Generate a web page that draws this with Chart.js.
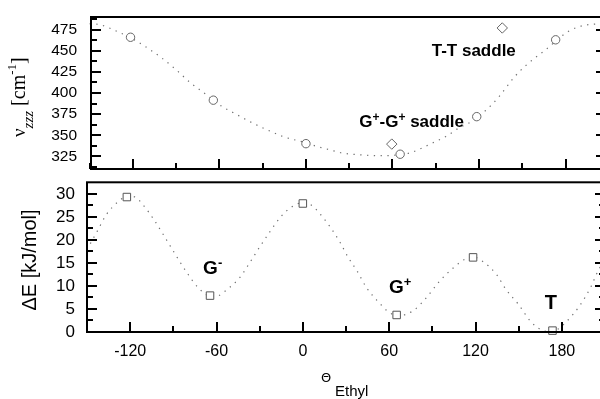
<!DOCTYPE html>
<html>
<head>
<meta charset="utf-8">
<script src="https://cdn.jsdelivr.net/npm/chart.js@4.4.0/dist/chart.umd.min.js"></script>
<style>
  html, body { margin: 0; padding: 0; background: #fff; width: 600px; height: 399px; overflow: hidden; position: relative; }
  canvas { position: absolute; left: 0; }
  #topChart { top: 0; }
  #bottomChart { top: 176px; }
</style>
</head>
<body>
<canvas id="topChart" width="640" height="176"></canvas>
<canvas id="bottomChart" width="640" height="223"></canvas>
<script>
// -----------------------------
// Data
// -----------------------------
const xTicks = [-120, -60, 0, 60, 120, 180];
const xMinorTicks = [-150, -90, -30, 30, 90, 150, 210];
const nuTicks = [325, 350, 375, 400, 425, 450, 475];
const nuMinorTicks = [312.5, 337.5, 362.5, 387.5, 412.5, 437.5, 462.5, 487.5];
const eTicks = [0, 5, 10, 15, 20, 25, 30];
const eMinorTicks = [2.5, 7.5, 12.5, 17.5, 22.5, 27.5];

// top panel: nu_zzz of the conformers (circles) and saddle points (diamonds)
const nuAngle = [-121.6, -64.2, 0, 65.3, 118.4, 173.1];
const nuValue = [466, 391.5, 340, 327.5, 372, 463];
const saddleAngle = [59.5, 136.1];
const saddleValue = [339.5, 477];

// top panel dotted curve
const nuCurveAngle = [-150, -143, -131, -117, -100, -90, -80, -69, -59, -48, -37, -27, -16, 0, 8, 16, 25, 36, 46, 55, 64, 72, 78, 88, 97, 106, 113, 125, 134, 144, 153, 166, 182, 196, 210];
const nuCurveValue = [482, 481, 473, 461, 441.5, 427.5, 412, 398, 385, 374.5, 364.5, 356.5, 348.5, 341, 336.5, 333, 329, 327, 326, 325.7, 326.8, 329, 333, 341, 348.5, 358.5, 364.5, 380, 396, 418, 433.5, 451, 473, 481, 482];

// bottom panel: relative energies (squares)
const eAngle = [-122.3, -64.5, 0, 65.2, 118.3, 173.5];
const eValue = [29.3, 7.9, 27.9, 3.7, 16.2, 0.3];

// bottom panel dotted curve
const eCurveAngle = [-150, -143, -136.7, -128, -121, -116.5, -110.8, -103.3, -96.9, -89.9, -80.6, -72.6, -64.5, -58.7, -53.9, -43.6, -36.2, -29.7, -22.8, -15.4, -8, 0, 6.1, 10.7, 18.8, 25.8, 31.5, 37.8, 44.3, 52.9, 59, 66, 76.6, 86, 95.2, 104.5, 112, 118.3, 124.2, 134.6, 141, 149.6, 158.9, 168.1, 172.5, 176.2, 182.7, 192.4, 200.5, 204, 210];
const eCurveValue = [17.9, 21.8, 25.4, 28.4, 29.5, 29.3, 27.5, 24.3, 21.1, 17.5, 12.9, 9.6, 7.8, 7.9, 8.9, 11.9, 15.4, 18.6, 21.8, 25, 27.1, 28.1, 27.5, 26.1, 22.9, 19.5, 16.2, 13.2, 9.6, 6.4, 4.5, 3.5, 4.6, 7.5, 11.1, 13.9, 15.7, 16.3, 15.5, 12.5, 9.3, 6.1, 2.1, 0.2, 0.1, 0.4, 2.1, 5.7, 10, 12.5, 16];

// -----------------------------
// Helpers
// -----------------------------
const SANS = "'Liberation Sans', Arial, sans-serif";
const SERIF = "'Liberation Serif', 'Times New Roman', serif";
Chart.defaults.font.family = SANS;
Chart.defaults.color = "#000";

function pts(xs, ys) {
  return xs.map((x, i) => ({ x: x, y: ys[i] }));
}

function rich(ctx, x, y, parts) {
  for (const p of parts) {
    ctx.font = p.font;
    ctx.fillText(p.t, x, y + (p.dy || 0));
    x += ctx.measureText(p.t).width;
  }
}

// no extra room for overhanging tick labels
function noPad(s) {
  s.paddingTop = 0;
  s.paddingBottom = 0;
  s.paddingLeft = 0;
  s.paddingRight = 0;
}

// frame + inward ticks, drawn with the chart's own scales
function framePlugin(yMajor, yMinor) {
  return {
    id: "frame",
    afterDraw(chart) {
      const { ctx, chartArea: a } = chart;
      const xs = chart.scales.x, ys = chart.scales.y;
      ctx.save();
      ctx.strokeStyle = "#000";
      ctx.lineWidth = 2;
      ctx.lineCap = "square";
      ctx.strokeRect(a.left, a.top, a.right - a.left, a.bottom - a.top);
      ctx.lineCap = "butt";
      const xt = (vals, len) => vals.forEach(v => {
        const p = Math.round(xs.getPixelForValue(v));
        ctx.beginPath(); ctx.moveTo(p, a.bottom); ctx.lineTo(p, a.bottom - len); ctx.stroke();
      });
      const yt = (vals, len) => vals.forEach(v => {
        const p = Math.round(ys.getPixelForValue(v));
        ctx.beginPath(); ctx.moveTo(a.left, p); ctx.lineTo(a.left + len, p); ctx.stroke();
        ctx.beginPath(); ctx.moveTo(a.right, p); ctx.lineTo(a.right - len, p); ctx.stroke();
      });
      xt(xTicks, 10); xt(xMinorTicks, 6);
      yt(yMajor, 10); yt(yMinor, 6);
      ctx.restore();
    }
  };
}

function labelPlugin(id, labels, extra) {
  return {
    id: id,
    afterDraw(chart) {
      const ctx = chart.ctx;
      const xs = chart.scales.x, ys = chart.scales.y;
      ctx.save();
      ctx.fillStyle = "#000";
      ctx.textBaseline = "alphabetic";
      labels.forEach(l => {
        ctx.textAlign = l.align || "left";
        rich(ctx, xs.getPixelForValue(l.x), ys.getPixelForValue(l.y), l.parts);
      });
      extra(ctx, chart);
      ctx.restore();
    }
  };
}

const curveStyle = {
  showLine: true,
  pointRadius: 0,
  borderColor: "#707070",
  borderWidth: 1.2,
  borderDash: [1.3, 5.5],
  cubicInterpolationMode: "monotone",
  clip: false
};

function markerStyle(shape, r, color) {
  return {
    pointStyle: shape,
    pointRadius: r,
    pointBorderColor: color,
    pointBackgroundColor: "#fff",
    pointBorderWidth: 1,
    showLine: false,
    clip: false
  };
}

function xScale(display, height) {
  return {
    type: "linear",
    min: -150,
    max: 210,
    display: display,
    afterBuildTicks: s => { s.ticks = xTicks.map(v => ({ value: v })); },
    afterFit: s => { s.height = height; noPad(s); },
    grid: { display: false, drawTicks: false },
    border: { display: false },
    ticks: { padding: 10, font: { size: 16 }, maxRotation: 0, autoSkip: false }
  };
}

// -----------------------------
// Top panel: nu_zzz
// -----------------------------
const B17 = "bold 17px " + SANS, B12 = "bold 12px " + SANS;
const topLabels = [
  { x: 87.2, y: 443.6, parts: [{ t: "T-T saddle", font: B17 }] },
  { x: 37, y: 360.3, parts: [
    { t: "G", font: B17 }, { t: "+", font: B12, dy: -6 },
    { t: "-G", font: B17 }, { t: "+", font: B12, dy: -6 },
    { t: " saddle", font: B17 }
  ] }
];

new Chart(document.getElementById("topChart"), {
  type: "scatter",
  data: {
    datasets: [
      Object.assign({ data: pts(nuAngle, nuValue) }, markerStyle("circle", 4.2, "#666")),
      Object.assign({ data: pts(saddleAngle, saddleValue) }, markerStyle("rectRot", 5.2, "#666")),
      Object.assign({ data: pts(nuCurveAngle, nuCurveValue) }, curveStyle)
    ]
  },
  options: {
    responsive: false,
    animation: false,
    layout: { padding: { left: 0, top: 17, right: 34, bottom: 7 } },
    plugins: { legend: { display: false }, tooltip: { enabled: false } },
    scales: {
      x: Object.assign(xScale(false, 0), { min: -149, max: 208 }),
      y: {
        type: "linear",
        min: 310,
        max: 490,
        afterBuildTicks: s => { s.ticks = nuTicks.map(v => ({ value: v })); },
        afterFit: s => { s.width = 91; noPad(s); },
        grid: { display: false, drawTicks: false },
        border: { display: false },
        ticks: { padding: 14, font: { size: 15.5 }, autoSkip: false }
      }
    }
  },
  plugins: [
    framePlugin(nuTicks, nuMinorTicks),
    labelPlugin("topLabels", topLabels, ctx => {
      // y axis title: nu_zzz [cm^-1]
      ctx.save();
      ctx.translate(25, 137);
      ctx.rotate(-Math.PI / 2);
      ctx.textAlign = "left";
      rich(ctx, 0, 0, [
        { t: "ν", font: "19px " + SERIF },
        { t: "zzz", font: "italic 15px " + SERIF, dy: 8 },
        { t: " [cm", font: "20px " + SERIF },
        { t: "-1", font: "13px " + SERIF, dy: -9 },
        { t: "]", font: "20px " + SERIF }
      ]);
      ctx.restore();
    })
  ]
});

// -----------------------------
// Bottom panel: Delta E
// -----------------------------
const B19 = "bold 19px " + SANS, B13 = "bold 13px " + SANS;
const bottomLabels = [
  { x: -69.3, y: 12.5, parts: [{ t: "G", font: B19 }, { t: "-", font: B13, dy: -7 }] },
  { x: 59.8, y: 8.55, parts: [{ t: "G", font: B19 }, { t: "+", font: B13, dy: -7 }] },
  { x: 172.3, y: 5.1, align: "center", parts: [{ t: "T", font: "bold 20px " + SANS }] }
];

new Chart(document.getElementById("bottomChart"), {
  type: "scatter",
  data: {
    datasets: [
      Object.assign({ data: pts(eAngle, eValue) }, markerStyle("rect", 5.3, "#555")),
      Object.assign({ data: pts(eCurveAngle, eCurveValue) }, curveStyle)
    ]
  },
  options: {
    responsive: false,
    animation: false,
    layout: { padding: { left: 0, top: 4, right: 35, bottom: 0 } },
    plugins: { legend: { display: false }, tooltip: { enabled: false } },
    scales: {
      x: xScale(true, 67),
      y: {
        type: "linear",
        min: 0,
        max: 32.5,
        afterBuildTicks: s => { s.ticks = eTicks.map(v => ({ value: v })); },
        afterFit: s => { s.width = 87; noPad(s); },
        grid: { display: false, drawTicks: false },
        border: { display: false },
        ticks: { padding: 12, font: { size: 17 }, autoSkip: false }
      }
    }
  },
  plugins: [
    framePlugin(eTicks, eMinorTicks),
    labelPlugin("bottomLabels", bottomLabels, (ctx, chart) => {
      const a = chart.chartArea;
      // y axis title
      ctx.save();
      ctx.translate(36, 84);
      ctx.rotate(-Math.PI / 2);
      ctx.textAlign = "center";
      ctx.font = "20px " + SANS;
      ctx.fillText("ΔE [kJ/mol]", 0, 0);
      ctx.restore();
      // x axis title: Theta_Ethyl
      const cx = (a.left + a.right) / 2;
      ctx.textAlign = "center";
      ctx.textBaseline = "middle";
      ctx.font = "13px 'DejaVu Sans', sans-serif";
      ctx.fillText("Θ", cx - 20, 203);
      ctx.textAlign = "left";
      ctx.font = "15px " + SANS;
      ctx.fillText("Ethyl", cx - 11, 216);
    })
  ]
});
</script>
</body>
</html>
